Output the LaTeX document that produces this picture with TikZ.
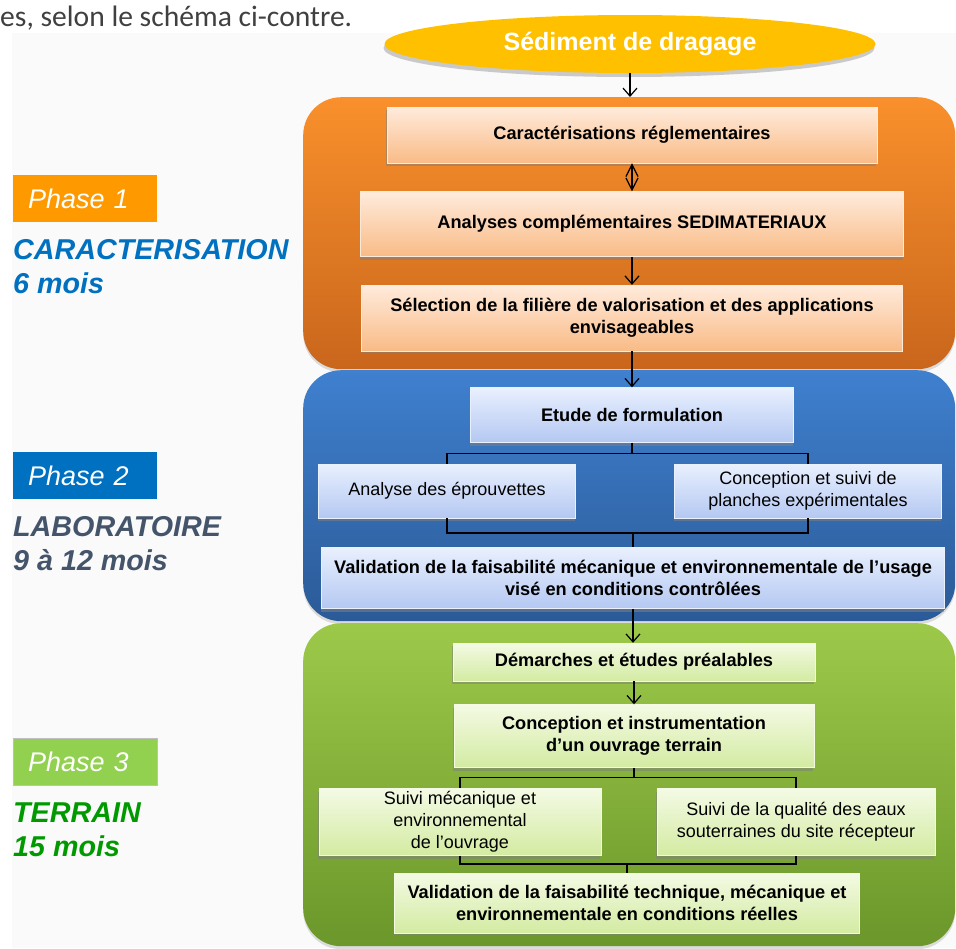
\documentclass[tikz,border=0pt]{standalone}
\usepackage{fontspec}
\setmainfont{Liberation Sans}
\newfontfamily\introfont{Carlito}
\usepackage{xcolor}
\usetikzlibrary{arrows.meta,positioning,shapes.geometric,shadows}

\definecolor{bgGray}{HTML}{FAFAFA}
\definecolor{introGray}{HTML}{404040}
\definecolor{sedYellow}{HTML}{FFC000}
\definecolor{orPanelTop}{HTML}{F9902C}
\definecolor{orPanelBot}{HTML}{C9661C}
\definecolor{bluPanelTop}{HTML}{3F80CF}
\definecolor{bluPanelBot}{HTML}{2B5A97}
\definecolor{grnPanelTop}{HTML}{9DC94A}
\definecolor{grnPanelBot}{HTML}{6B972B}
\definecolor{orBoxTop}{HTML}{FFEBDC}
\definecolor{orBoxBot}{HTML}{F9BB86}
\definecolor{bluBoxTop}{HTML}{E9F0FE}
\definecolor{bluBoxBot}{HTML}{B4C8F2}
\definecolor{grnBoxTop}{HTML}{F4FAE4}
\definecolor{grnBoxBot}{HTML}{D3EBA2}
\definecolor{phaseOrange}{HTML}{FF9900}
\definecolor{phaseBlue}{HTML}{0070C0}
\definecolor{phaseGreen}{HTML}{92D050}
\definecolor{caracBlue}{HTML}{0070C0}
\definecolor{laboSlate}{HTML}{44546A}
\definecolor{terrainGreen}{HTML}{009A00}

\begin{document}
\begin{tikzpicture}[
  x=1pt, y=-1pt,
  panel/.style={anchor=north west, inner sep=0pt, minimum width=652pt, rounded corners=38pt,
    drop shadow={shadow xshift=0pt, shadow yshift=-3pt, opacity=.25}},
  box/.style={align=center, inner sep=2pt, text=black, font=\fontsize{18.2}{22}\selectfont\bfseries,
    drop shadow={shadow xshift=-1pt, shadow yshift=-3pt, opacity=.55}},
  plain/.style={font=\fontsize{18}{22}\selectfont},
  orbox/.style={box, top color=orBoxTop, bottom color=orBoxBot, draw=orBoxTop},
  blubox/.style={box, top color=bluBoxTop, bottom color=bluBoxBot, draw=bluBoxTop},
  grnbox/.style={box, top color=grnBoxTop, bottom color=grnBoxBot, draw=grnBoxTop},
  phase/.style={anchor=north west, minimum height=47pt, text width=114pt, inner xsep=15pt, align=left,
    text=white, font=\fontsize{27}{30}\selectfont\itshape},
  phasetxt/.style={anchor=north west, inner sep=0pt, align=left, font=\fontsize{28.7}{34}\selectfont\bfseries\itshape},
  arrow/.style={-{Straight Barb[length=8pt,width=14pt]}, line width=1.2pt},
  dblarrow/.style={{Straight Barb[length=12pt,width=12pt]}-{Straight Barb[length=12pt,width=12pt]}, line width=1.2pt},
  link/.style={line width=1.2pt}
]
\useasboundingbox (0,0) rectangle (956,948);
\fill[bgGray] (12,33) rectangle (956,948);

\node[anchor=base west, inner sep=0pt, text=introGray, font=\introfont\fontsize{29.6}{34}\selectfont] (intro) at (0,26) {es, selon le schéma ci-contre.};

\node[panel, top color=orPanelTop, bottom color=orPanelBot, minimum height=272pt] (ph1) at (303,97) {};
\node[panel, top color=bluPanelTop, bottom color=bluPanelBot, minimum height=251pt] (ph2) at (303,370) {};
\node[panel, top color=grnPanelTop, bottom color=grnPanelBot, minimum height=323pt] (ph3) at (303,623) {};

\node[ellipse, fill=sedYellow, minimum width=491pt, minimum height=58pt, text=white,
  font=\fontsize{25}{28}\selectfont\bfseries, drop shadow={shadow xshift=-1pt, shadow yshift=-4pt, opacity=.4}] (sed) at (630,44) {Sédiment de dragage};

\node[orbox, minimum width=490pt, minimum height=56pt] (caract) at (632,135) {Caractérisations réglementaires};
\node[orbox, minimum width=543pt, minimum height=65pt] (analyses) at (632,224) {Analyses complémentaires SEDIMATERIAUX};
\node[orbox, minimum width=541pt, minimum height=66pt] (selection) at (632,318) {Sélection de la filière de valorisation et des applications\\envisageables};

\node[blubox, minimum width=323pt, minimum height=55pt] (etude) at (632,415) {Etude de formulation};
\node[blubox, plain, minimum width=257pt, minimum height=54pt] (eprouv) at (447,491) {Analyse des éprouvettes};
\node[blubox, plain, minimum width=267pt, minimum height=54pt] (planches) at (808,491) {Conception et suivi de\\planches expérimentales};
\node[blubox, minimum width=623pt, minimum height=61pt] (validLabo) at (633,578) {Validation de la faisabilité mécanique et environnementale de l’usage\\visé en conditions contrôlées};

\node[grnbox, minimum width=362pt, minimum height=38pt] (demarches) at (634,662) {Démarches et études préalables};
\node[grnbox, minimum width=360pt, minimum height=63pt] (instrum) at (634,736) {Conception et instrumentation\\d’un ouvrage terrain};
\node[grnbox, plain, minimum width=282pt, minimum height=67pt] (suiviMeca) at (460,822) {Suivi mécanique et\\environnemental\\de l’ouvrage};
\node[grnbox, plain, minimum width=278pt, minimum height=67pt] (suiviEaux) at (796,822) {Suivi de la qualité des eaux\\souterraines du site récepteur};
\node[grnbox, minimum width=465pt, minimum height=60pt] (validTerrain) at (627,903) {Validation de la faisabilité technique, mécanique et\\environnementale en conditions réelles};

\node[phase, fill=phaseOrange] (lab1) at (13,175) {Phase 1};
\node[phasetxt, text=caracBlue] (txt1) at (13,239) {CARACTERISATION\\6 mois};
\node[phase, fill=phaseBlue] (lab2) at (13,452) {Phase 2};
\node[phasetxt, text=laboSlate] (txt2) at (13,516) {LABORATOIRE\\9 à 12 mois};
\node[phase, fill=phaseGreen, draw=black!25] (lab3) at (13,738) {Phase 3};
\node[phasetxt, text=terrainGreen] (txt3) at (13,803) {TERRAIN\\15 mois};

\draw[arrow] (sed.south) -- (sed.south |- ph1.north);
\draw[dblarrow] (caract) -- (analyses);
\draw[arrow] (analyses) -- (selection);
\draw[arrow] (selection) -- (etude);
\draw[link] (etude.south) -- ++(0,11) -| (eprouv.north);
\draw[link] (etude.south) ++(0,11) -| (planches.north);
\coordinate (joinLabo) at (633,533);
\draw[link] (eprouv.south) |- (joinLabo) -| (planches.south);
\draw[link] (joinLabo) -- (validLabo.north);
\draw[arrow] (validLabo.south) -- (validLabo.south |- demarches.north);
\draw[arrow] (demarches) -- (instrum);
\draw[link] (instrum.south) -- ++(0,10) -| (suiviMeca.north);
\draw[link] (instrum.south) ++(0,10) -| (suiviEaux.north);
\coordinate (joinTerrain) at (627,864);
\draw[link] (suiviMeca.south) |- (joinTerrain) -| (suiviEaux.south);
\draw[link] (joinTerrain) -- (validTerrain.north);
\end{tikzpicture}
\end{document}
